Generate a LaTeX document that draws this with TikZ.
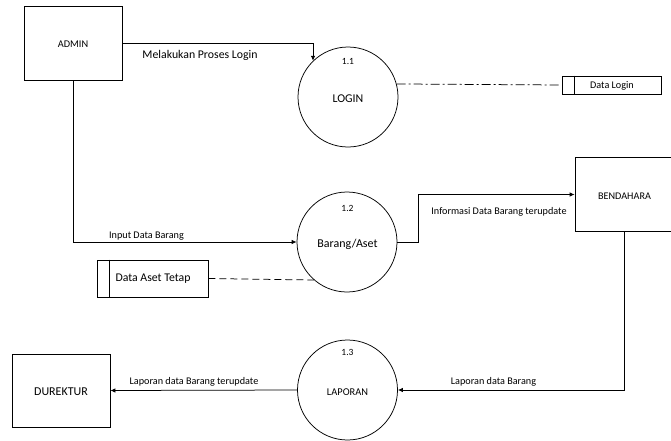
\documentclass[tikz,border=0pt]{standalone}
\usepackage{fontspec}
\setmainfont{Carlito}
\usetikzlibrary{arrows.meta}
\newcommand{\fs}[1]{\fontsize{#1}{#1}\selectfont}
\begin{document}
\begin{tikzpicture}[x=1pt,y=-1pt,
  every node/.style={font=\fs{10.2}},
  entity/.style={draw,line width=0.75pt,minimum width=98pt,minimum height=74pt,inner sep=0pt},
  process/.style={draw,circle,line width=0.75pt,minimum size=100pt,inner sep=0pt},
  store/.style={draw,line width=0.75pt,inner sep=0pt},
  flow/.style={line width=0.75pt,-{Latex[length=5pt,width=4.5pt]}},
  link/.style={line width=0.75pt},
  lbl/.style={font=\fs{10.2},inner sep=1pt},
  num/.style={font=\fs{9.5},inner sep=1pt},
  big/.style={font=\fs{11.8},inner sep=1pt}]
\useasboundingbox (0,0) rectangle (671,440);

% external entities
\node[entity] (admin) at (73,43.5) {};
\node[font=\fs{10.3}] (tadmin) at (73,44) {ADMIN};
\node[entity] (bend) at (624,194.5) {};
\node[font=\fs{10.2}] (tbend) at (624.5,196) {BENDAHARA};
\node[entity,minimum height=73pt] (dir) at (61,390.5) {};
\node[font=\fs{12}] (tdir) at (61,392) {DUREKTUR};

% processes
\node[process] (login) at (348,97) {};
\node[font=\fs{11.9}] (tlogin) at (348,99) {LOGIN};
\node[num] (n11) at (348,61) {1.1};
\node[process] (barang) at (347,242) {};
\node[font=\fs{12}] (tbarang) at (347.5,244) {Barang/Aset};
\node[num] (n12) at (347.5,208) {1.2};
\node[process] (lap) at (347.5,390) {};
\node[font=\fs{10.4}] (tlap) at (347.5,392) {LAPORAN};
\node[num] (n13) at (347.5,352) {1.3};

% data stores
\node[store,minimum width=99pt,minimum height=18pt] (dlogin) at (611.5,85) {};
\draw[link] (dlogin.north west) ++(13,0) coordinate (dl1) -- (dl1 |- dlogin.south);
\node[lbl] (tdl) at (612,85.5) {Data Login};
\node[store,minimum width=111pt,minimum height=37pt] (daset) at (152.5,278.5) {};
\draw[link] (daset.north west) ++(13,0) coordinate (da1) -- (da1 |- daset.south);
\node[big] (tda) at (153,279) {Data Aset Tetap};

% data flows
\draw[flow] (admin.east) -| (login.134);
\node[big] (l1) at (200,55) {Melakukan Proses Login};

\draw[link,dash pattern=on 9pt off 3pt on 2pt off 3pt] (login.15) -- (dlogin.west);

\draw[flow] (admin.south) |- (barang.west);
\node[lbl] (l2) at (146.5,236) {Input Data Barang};

\draw[link,dash pattern=on 7pt off 4pt] (daset.east) -- (barang.229);

\draw[flow] (barang.east) -- ++(21,0) coordinate (c1) |- (bend.west);
\node[lbl] (l3) at (499,211.5) {Informasi Data Barang terupdate};

\draw[flow] (bend.south) |- (lap.east);
\node[lbl] (l4) at (493.5,382) {Laporan data Barang};

\draw[flow] (lap.west) -- (dir.east);
\node[lbl] (l5) at (194,382) {Laporan data Barang terupdate};
\end{tikzpicture}
\end{document}
